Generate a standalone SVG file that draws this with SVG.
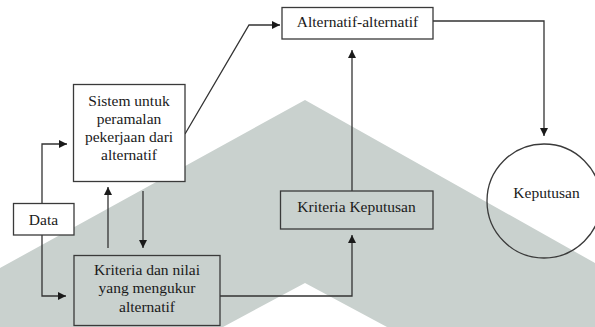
<svg xmlns="http://www.w3.org/2000/svg" width="595" height="327" viewBox="0 0 595 327" font-family="'Liberation Serif', 'Times New Roman', serif">
<defs>
<style>
.bg{fill:#c9d1ce;}
.box{stroke:#3a3a3a;stroke-width:1.3;}
.w{fill:#ffffff;}
.t{fill:none;}
text{font-family:'Liberation Serif','Times New Roman',serif;font-size:15.5px;fill:#1a1a1a;text-anchor:middle;}
.con{fill:none;stroke:#333333;stroke-width:1.3;}
</style>
<marker id="arr" viewBox="0 0 10 10" refX="10" refY="5" markerWidth="8" markerHeight="8" markerUnits="userSpaceOnUse" orient="auto">
<path d="M0,0 L10,5 L0,10 Z" fill="#1a1a1a"/>
</marker>
</defs>
<rect width="595" height="327" fill="#ffffff"/>
<path class="bg" d="M305,100 L595,263 L595,327 L387,327 L305,283 L223,327 L0,327 L0,268 Z"/>
<g id="connectors">
<path class="con" d="M185,134 L249,25 L280,25" marker-end="url(#arr)"/>
<path class="con" d="M433,21 L544,21 L544,136" marker-end="url(#arr)"/>
<path class="con" d="M352,191 L352,50" marker-end="url(#arr)"/>
<path class="con" d="M220,296 L352,296 L352,235" marker-end="url(#arr)"/>
<path class="con" d="M42,203 L42,144 L67,144" marker-end="url(#arr)"/>
<path class="con" d="M42,235 L42,296 L66,296" marker-end="url(#arr)"/>
<path class="con" d="M108,248 L108,187" marker-end="url(#arr)"/>
<path class="con" d="M143,191 L143,248" marker-end="url(#arr)"/>
</g>
<g id="alternatif">
<rect class="box w" x="282" y="7.5" width="151" height="31.5"/>
<text x="357.5" y="27">Alternatif-alternatif</text>
</g>
<g id="sistem">
<rect class="box w" x="73.5" y="84.5" width="111.5" height="97"/>
<text x="129" y="106">Sistem untuk</text>
<text x="129" y="124">peramalan</text>
<text x="129" y="142">pekerjaan dari</text>
<text x="129" y="160">alternatif</text>
</g>
<g id="data">
<rect class="box w" x="13.5" y="203.5" width="60.5" height="31.5"/>
<text x="43.5" y="224.5">Data</text>
</g>
<g id="kriteria-nilai">
<rect class="box t" x="74" y="255.5" width="146" height="70"/>
<text x="147" y="275">Kriteria dan nilai</text>
<text x="147" y="293">yang mengukur</text>
<text x="147" y="311.5">alternatif</text>
</g>
<g id="kriteria-keputusan">
<rect class="box t" x="280.5" y="191" width="152.5" height="38"/>
<text x="356.5" y="212">Kriteria Keputusan</text>
</g>
<g id="keputusan">
<circle class="box t" cx="544" cy="201" r="57"/>
<text x="546.5" y="198">Keputusan</text>
</g>
</svg>
